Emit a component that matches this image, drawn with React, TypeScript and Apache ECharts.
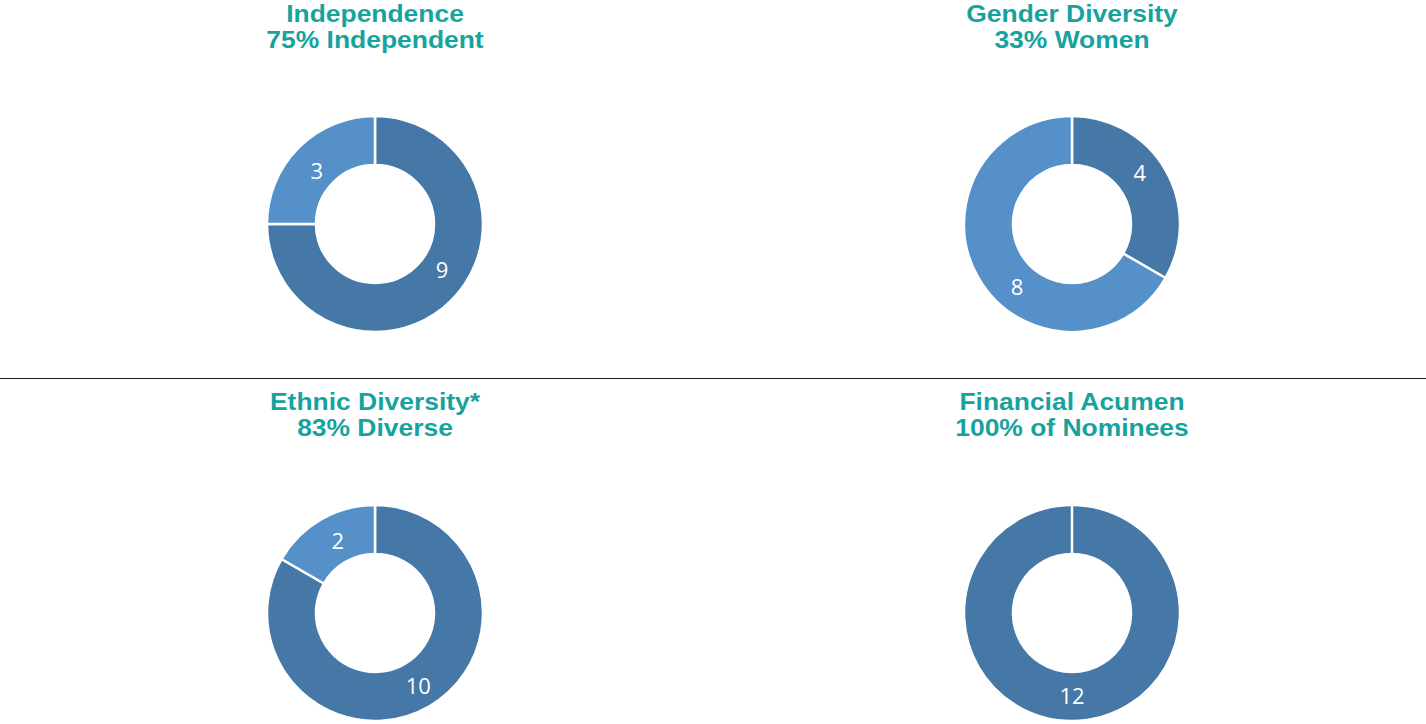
import React, { useEffect, useRef } from "react";
import * as echarts from "echarts";

const titles = [
  "Independence\n75% Independent",
  "Gender Diversity\n33% Women",
  "Ethnic Diversity*\n83% Diverse",
  "Financial Acumen\n100% of Nominees",
];
const independence = [
  { name: "Independent", value: 9, color: "dark" },
  { name: "Not Independent", value: 3, color: "light" },
];
const gender = [
  { name: "Women", value: 4, color: "dark" },
  { name: "Men", value: 8, color: "light" },
];
const ethnic = [
  { name: "Diverse", value: 10, color: "dark" },
  { name: "Not Diverse", value: 2, color: "light" },
];
const financial = [{ name: "Financial Acumen", value: 12, color: "dark" }];

// label nudges (layout only), per chart per slice
const labelOffsets = [
  [[6, -16], [3, 7]],
  [[-7, -9], [20, 19]],
  [[0, -3], [6, 2]],
  [[0, -5]],
];

const DARK = "#4577a7";
const LIGHT = "#5590c8";
const TEAL = "#17a39d";

export default function App() {
  const ref = useRef<HTMLDivElement>(null);
  useEffect(() => {
    document.body.style.margin = "0";
    const chart = echarts.init(ref.current!, undefined, { renderer: "svg" });
    const centers = [
      [375, 224],
      [1072, 224],
      [375, 613],
      [1072, 613],
    ];
    const datasets = [independence, gender, ethnic, financial];
    const series = datasets.map((d, i) => ({
      type: "pie",
      center: centers[i],
      radius: [59, 108],
      startAngle: 90,
      clockwise: true,
      avoidLabelOverlap: false,
      silent: true,
      label: {
        show: true,
        position: "inside",
        formatter: "{c}",
        color: "#ffffff",
        fontSize: 22,
        fontFamily: "Open Sans",
      },
      labelLine: { show: false },
      itemStyle: { borderColor: "#ffffff", borderWidth: 2.5 },
      data: d.map((x, j) => ({
        name: x.name,
        value: x.value,
        itemStyle: { color: x.color === "dark" ? DARK : LIGHT },
        label: { offset: labelOffsets[i][j] },
      })),
    }));
    const titleGraphics = titles.map((t, i) => ({
      type: "text",
      x: centers[i][0],
      y: i < 2 ? 1 : 389,
      scaleX: 1.15,
      style: {
        text: t,
        fill: TEAL,
        font: "bold 23px 'Liberation Sans'",
        lineHeight: 26,
        align: "center",
        verticalAlign: "top",
      },
    }));
    chart.setOption({
      animation: false,
      backgroundColor: "#ffffff",
      graphic: [
        ...titleGraphics,
        {
          type: "line",
          shape: { x1: 0, y1: 378.5, x2: 1426, y2: 378.5 },
          style: { stroke: "#1a1a1a", lineWidth: 1.2 },
        },
        {
          type: "line",
          shape: { x1: 1072, y1: 505, x2: 1072, y2: 555 },
          style: { stroke: "#ffffff", lineWidth: 2.5 },
          z: 100,
        },
      ],
      series,
    });
    return () => chart.dispose();
  }, []);
  return <div ref={ref} style={{ width: 1426, height: 724 }} />;
}
